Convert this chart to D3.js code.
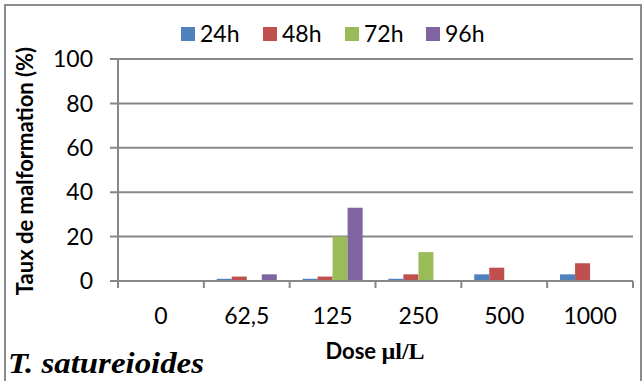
<!DOCTYPE html>
<html><head><meta charset="utf-8">
<script src="https://cdn.jsdelivr.net/npm/d3@7/dist/d3.min.js"></script>
<style>body{margin:0;background:#fff}svg{display:block}</style>
</head><body><svg id="c" width="644" height="381"></svg>
<script>
const categories = ["0", "62,5", "125", "250", "500", "1000"];
const seriesNames = ["24h", "48h", "72h", "96h"];
const s24 = [0, 1, 1, 1, 3, 3];
const s48 = [0, 2, 2, 3, 6, 8];
const s72 = [0, 0, 20, 13, 0, 0];
const s96 = [0, 3, 33, 0, 0, 0];
const yTicks = [0, 20, 40, 60, 80, 100];
const colors = ["#4F81BD", "#C0504D", "#9BBB59", "#8064A2"];
const seriesValues = [s24, s48, s72, s96];

const svg = d3.select("#c");
const font = "Lato, 'Open Sans', sans-serif";
svg.append("rect").attr("x",5).attr("y",5).attr("width",636).attr("height",390)
  .attr("fill","#fff").attr("stroke","#8c8c8c").attr("stroke-width",2);

const L=118,R=633,T=59,B=281;
const x = d3.scaleBand().domain(categories).range([L,R]).padding(0);
const y = d3.scaleLinear().domain([0,100]).range([B,T]);
const bw = x.bandwidth(), gw = bw*0.70;
const xi = d3.scaleBand().domain(seriesNames).range([(bw-gw)/2,(bw+gw)/2]).padding(0);

// gridlines
svg.append("g").selectAll("line").data(yTicks).join("line")
  .attr("x1",L-8).attr("x2",R).attr("y1",d=>y(d)).attr("y2",d=>y(d))
  .attr("stroke","#878787").attr("stroke-width",2);
// y axis line
svg.append("line").attr("x1",L).attr("x2",L).attr("y1",T).attr("y2",B)
  .attr("stroke","#878787").attr("stroke-width",2);
// x ticks
const bounds = categories.map(c=>x(c)).concat([R]);
svg.append("g").selectAll("line").data(bounds).join("line")
  .attr("x1",d=>d).attr("x2",d=>d).attr("y1",B).attr("y2",B+7)
  .attr("stroke","#878787").attr("stroke-width",2);

// bars
const g = svg.append("g");
seriesNames.forEach((s,si)=>{
  g.append("g").selectAll("rect").data(seriesValues[si]).join("rect")
   .attr("x",(d,i)=>x(categories[i])+xi(s))
   .attr("width",xi.bandwidth())
   .attr("y",d=>y(d)).attr("height",d=>B-y(d))
   .attr("fill",colors[si]);
});
// axis line on top
svg.append("line").attr("x1",L-8).attr("x2",R).attr("y1",B).attr("y2",B)
  .attr("stroke","#878787").attr("stroke-width",2);

// y labels
svg.append("g").selectAll("text").data(yTicks).join("text")
  .attr("x",93).attr("y",d=>y(d)).attr("dy","0.36em").attr("text-anchor","end")
  .attr("font-family",font).attr("font-size",23).attr("fill","#000").text(d=>d);
// x labels
svg.append("g").selectAll("text").data(categories).join("text")
  .attr("x",d=>x(d)+bw/2).attr("y",324).attr("text-anchor","middle")
  .attr("font-family",font).attr("font-size",23).attr("fill","#000").text(d=>d);

// legend
const lg = svg.append("g");
const lx = [181,263,345,426];
seriesNames.forEach((s,i)=>{
  lg.append("rect").attr("x",lx[i]).attr("y",27).attr("width",14).attr("height",14).attr("fill",colors[i]);
  lg.append("text").attr("x",lx[i]+19).attr("y",42).attr("font-family",font).attr("font-size",23).text(s);
});

// y title
svg.append("text").attr("transform","translate(33,171) rotate(-90)")
  .attr("text-anchor","middle").attr("font-family",font).attr("font-weight","bold")
  .attr("font-size",22).text("Taux de malformation (%)");
// x title
const xt = svg.append("text").attr("x",375).attr("y",359).attr("text-anchor","middle");
xt.append("tspan").attr("font-family",font).attr("font-weight","bold").attr("font-size",22).text("Dose ");
xt.append("tspan").attr("font-family","'Liberation Serif', serif").attr("font-weight","bold").attr("font-size",24).text("µl/L");
// species
svg.append("text").attr("x",8).attr("y",373).attr("font-family","'Liberation Serif', serif")
  .attr("font-weight","bold").attr("font-style","italic").attr("font-size",29)
  .attr("textLength",196).attr("lengthAdjust","spacingAndGlyphs").text("T. satureioides");
</script></body></html>
